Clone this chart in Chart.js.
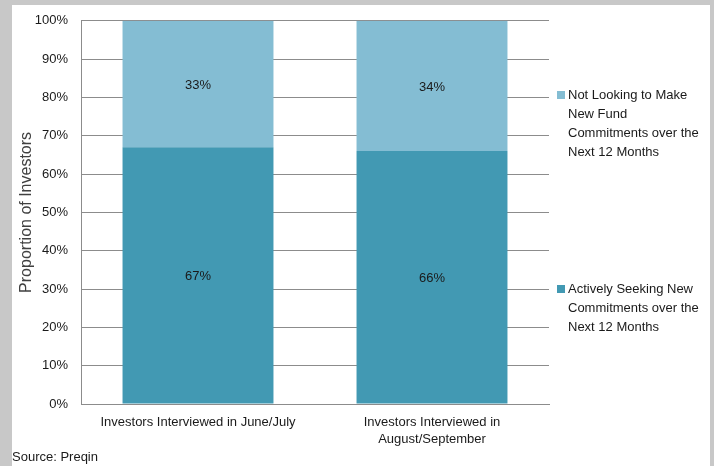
<!DOCTYPE html>
<html>
<head>
<meta charset="utf-8">
<script src="https://cdn.jsdelivr.net/npm/chart.js@4"></script>
<style>
  html, body { margin: 0; padding: 0; }
  body { width: 714px; height: 466px; background: #c8c8c8; position: relative; overflow: hidden;
         font-family: "Liberation Sans", Arial, sans-serif; }
  #panel { position: absolute; left: 12px; top: 5px; width: 698px; height: 461px; background: #fff; }
  #wrap { position: absolute; left: 0; top: 0; width: 714px; height: 466px; }
  #legend { position: absolute; left: 0; top: 0; font-size: 13px; color: #1a1a1a; }
  .item { position: absolute; left: 557px; line-height: 19px; white-space: nowrap; }
  .box { position: absolute; left: 0; top: 6px; width: 8px; height: 8px; }
  .txt { position: absolute; left: 11px; top: 0; }
  #source { position: absolute; left: 12px; top: 449px; font-size: 13px; color: #1a1a1a; }
</style>
</head>
<body>
<div id="panel"></div>
<div id="wrap"><canvas id="chart" width="714" height="466"></canvas></div>
<div id="legend"></div>
<div id="source">Source: Preqin</div>
<script>
// Survey periods
const periods = ['Investors Interviewed in June/July', ['Investors Interviewed in', 'August/September']];

// Share of investors (%)
const activelySeeking = [67, 66];
const notLooking = [33, 34];

// Series names, split the way the legend wraps them
const seekingName = ['Actively Seeking New', 'Commitments over the', 'Next 12 Months'];
const notLookingName = ['Not Looking to Make', 'New Fund', 'Commitments over the', 'Next 12 Months'];

const yTicks = [0, 10, 20, 30, 40, 50, 60, 70, 80, 90, 100];

const darkBlue = '#4299b3';
const lightBlue = '#84bdd3';

// Percent labels in the middle of every segment
const segmentLabels = {
  id: 'segmentLabels',
  afterDatasetsDraw(chart) {
    const ctx = chart.ctx;
    ctx.save();
    ctx.font = '13px "Liberation Sans", Arial, sans-serif';
    ctx.fillStyle = '#1a1a1a';
    ctx.textAlign = 'center';
    ctx.textBaseline = 'middle';
    chart.data.datasets.forEach((ds, i) => {
      chart.getDatasetMeta(i).data.forEach((bar, j) => {
        const mid = (bar.y + bar.base) / 2;
        ctx.fillText(ds.data[j] + '%', bar.x, mid + 1);
      });
    });
    ctx.restore();
  }
};

const chart = new Chart(document.getElementById('chart'), {
  type: 'bar',
  data: {
    labels: periods,
    datasets: [
      {label: seekingName.join(' '), data: activelySeeking, backgroundColor: darkBlue},
      {label: notLookingName.join(' '), data: notLooking, backgroundColor: lightBlue}
    ]
  },
  options: {
    responsive: false,
    animation: false,
    datasets: {bar: {categoryPercentage: 1, barPercentage: 0.645, borderWidth: 0}},
    layout: {padding: {left: 12, top: 18, right: 165, bottom: 10}},
    plugins: {
      legend: {display: false},
      tooltip: {enabled: false}
    },
    scales: {
      x: {
        stacked: true,
        grid: {display: false},
        border: {display: true, color: '#8c8c8c', width: 1},
        ticks: {
          color: '#1a1a1a',
          padding: 2,
          maxRotation: 0,
          autoSkip: false,
          font: {family: '"Liberation Sans", Arial, sans-serif', size: 13, lineHeight: 1.3}
        },
        afterFit: s => { s.height = 52; }
      },
      y: {
        stacked: true,
        min: 0,
        max: 100,
        afterBuildTicks: s => { s.ticks = yTicks.map(v => ({value: v})); },
        grid: {color: '#8c8c8c', drawTicks: false, lineWidth: 1},
        border: {display: true, color: '#8c8c8c', width: 1},
        ticks: {
          color: '#1a1a1a',
          padding: 13,
          callback: v => v + '%',
          font: {family: '"Liberation Sans", Arial, sans-serif', size: 13}
        },
        title: {
          display: true,
          text: 'Proportion of Investors',
          color: '#404040',
          padding: {top: 5, bottom: 0},
          font: {family: '"Liberation Sans", Arial, sans-serif', size: 16}
        },
        afterFit: s => { s.width = 69; }
      }
    }
  },
  plugins: [segmentLabels]
});

// Legend on the right, top entry first as in the stacked bars
const legend = document.getElementById('legend');
const legendItems = [
  {name: notLookingName, color: lightBlue, top: 85},
  {name: seekingName, color: darkBlue, top: 279}
];
legendItems.forEach(it => {
  const el = document.createElement('div');
  el.className = 'item';
  el.style.top = it.top + 'px';
  el.innerHTML = '<span class="box" style="background:' + it.color + '"></span>' +
    '<div class="txt">' + it.name.join('<br>') + '</div>';
  legend.appendChild(el);
});
</script>
</body>
</html>
